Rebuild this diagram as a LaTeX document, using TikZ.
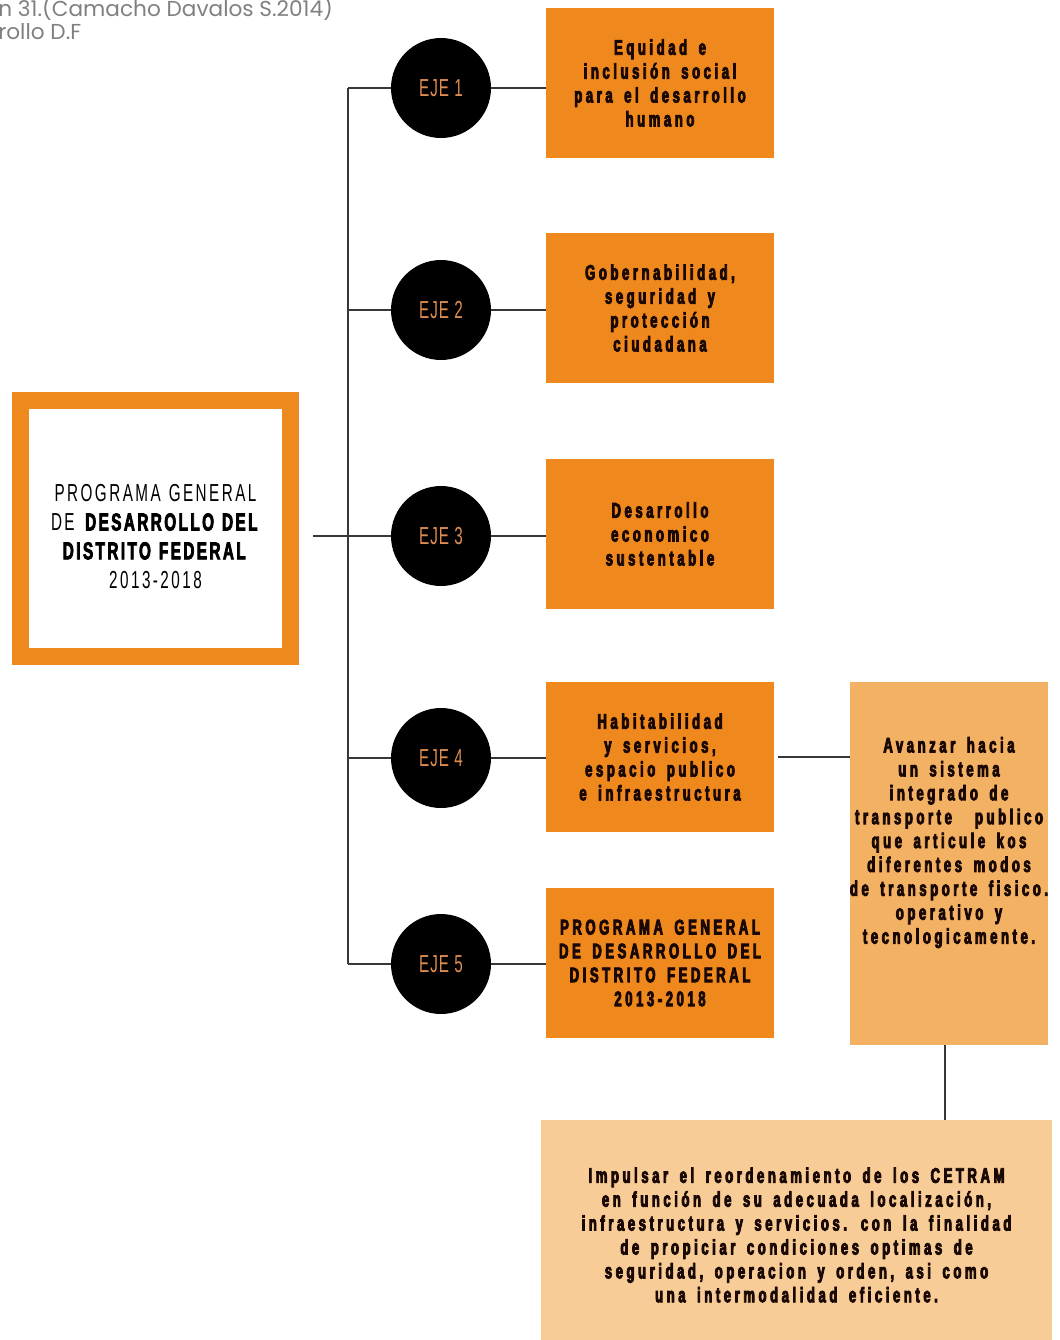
\documentclass[tikz,border=0pt]{standalone}
\usepackage{fontspec}
\setmainfont{Liberation Sans}
\newfontfamily\capfont{Poppins}
\newfontfamily\ejefont[FakeStretch=0.62,LetterSpace=4]{Liberation Sans}
\newfontfamily\pgdffont[FakeStretch=0.62,LetterSpace=10,WordSpace=1.2,BoldFeatures={FakeBold=3}]{Liberation Sans}
\newfontfamily\boxfont[FakeStretch=0.62,LetterSpace=17,WordSpace=1.6,FakeBold=4]{Liberation Sans Bold}
\usetikzlibrary{positioning}

\definecolor{boxorange}{RGB}{239,136,29}
\definecolor{mainorange}{RGB}{238,137,30}
\definecolor{tallorange}{RGB}{243,177,99}
\definecolor{peach}{RGB}{248,204,150}
\definecolor{boxtext}{RGB}{25,8,4}
\definecolor{ejetext}{RGB}{222,140,80}
\definecolor{linegray}{RGB}{55,55,55}
\definecolor{capgray}{RGB}{128,128,128}

\newcommand{\shifttext}[2]{\makebox[0pt]{\raisebox{#1}[0pt][0pt]{\begin{tabular}{@{}c@{}}#2\end{tabular}}}}

\tikzset{
  eje/.style={circle, fill=black, minimum size=2cm, inner sep=0pt,
    text=ejetext, font=\ejefont\fontsize{14}{16}\selectfont},
  ejebox/.style={fill=boxorange, minimum width=4.56cm, minimum height=3cm,
    align=center, text=boxtext, font=\boxfont\fontsize{12}{13.6}\selectfont},
  link/.style={draw=linegray, line width=1.4pt},
}

\begin{document}
\begin{tikzpicture}[x=0.02cm, y=-0.02cm]
    \useasboundingbox (0,0) rectangle (1060,1340);

    \node[anchor=north west, align=left, text=capgray, inner sep=0pt,
      font=\capfont\fontsize{12.3}{13}\selectfont] (caption) at (-2,-4)
      {n 31.(Camacho Davalos S.2014)\\rollo D.F};

    \node[draw=mainorange, line width=0.34cm, fill=white, minimum width=5.4cm,
      minimum height=5.12cm,
      font=\pgdffont\fontsize{14}{16.4}\selectfont] (pgdf) at (155.5,528.5)
      {\shifttext{-0.34cm}{PROGRAMA GENERAL\\DE \textbf{DESARROLLO DEL}\\\textbf{DISTRITO FEDERAL}\\2013-2018}};

    \node[eje] (eje1) at (441,88) {EJE 1};
    \node[eje] (eje2) at (441,310) {EJE 2};
    \node[eje] (eje3) at (441,536) {EJE 3};
    \node[eje] (eje4) at (441,758) {EJE 4};
    \node[eje] (eje5) at (441,964) {EJE 5};

    \node[ejebox] (equidad) at (660,83) {Equidad e\\inclusión social\\para el desarrollo\\humano};
    \node[ejebox] (gobernabilidad) at (660,308) {Gobernabilidad,\\seguridad y\\protección\\ciudadana};
    \node[ejebox] (desarrollo) at (660,534) {Desarrollo\\economico\\sustentable};
    \node[ejebox] (habitabilidad) at (660,757) {Habitabilidad\\y servicios,\\espacio publico\\e infraestructura};
    \node[ejebox] (programa) at (660,963) {PROGRAMA GENERAL\\DE DESARROLLO DEL\\DISTRITO FEDERAL\\2013-2018};

    \node[ejebox, fill=tallorange, minimum width=3.96cm, minimum height=7.26cm, align=none] (transporte) at (949,863.5)
      {\shifttext{0.3cm}{Avanzar hacia\\un sistema\\integrado de\\transporte\ \ publico\\que articule kos\\diferentes modos\\de transporte fisico.\\operativo y\\tecnologicamente.}};

    \node[ejebox, fill=peach, minimum width=10.22cm, minimum height=4.4cm, align=none] (cetram) at (796.5,1230)
      {\shifttext{-0.26cm}{Impulsar el reordenamiento de los CETRAM\\en función de su adecuada localización,\\infraestructura y servicios. con la finalidad\\de propiciar condiciones optimas de\\seguridad, operacion y orden, asi como\\una intermodalidad eficiente.}};

    \coordinate (trunktop) at (348,88);
    \coordinate (trunkbot) at (348,964);
    \draw[link] (trunktop) -- (trunkbot);
    \draw[link] ([xshift=0.28cm]pgdf.east |- eje3) -- (eje3);

    \draw[link] (eje1 -| trunktop) -- (eje1) -- (eje1 -| equidad.west);
    \draw[link] (eje2 -| trunktop) -- (eje2) -- (eje2 -| gobernabilidad.west);
    \draw[link] (eje3) -- (eje3 -| desarrollo.west);
    \draw[link] (eje4 -| trunktop) -- (eje4) -- (eje4 -| habitabilidad.west);
    \draw[link] (eje5 -| trunktop) -- (eje5) -- (eje5 -| programa.west);

    \draw[link] ([xshift=0.08cm]habitabilidad.east) -- (habitabilidad.east -| transporte.west);
    \draw[link] ([xshift=-0.08cm]transporte.south) -- ([xshift=-0.08cm]transporte.south |- cetram.north);
\end{tikzpicture}
\end{document}
